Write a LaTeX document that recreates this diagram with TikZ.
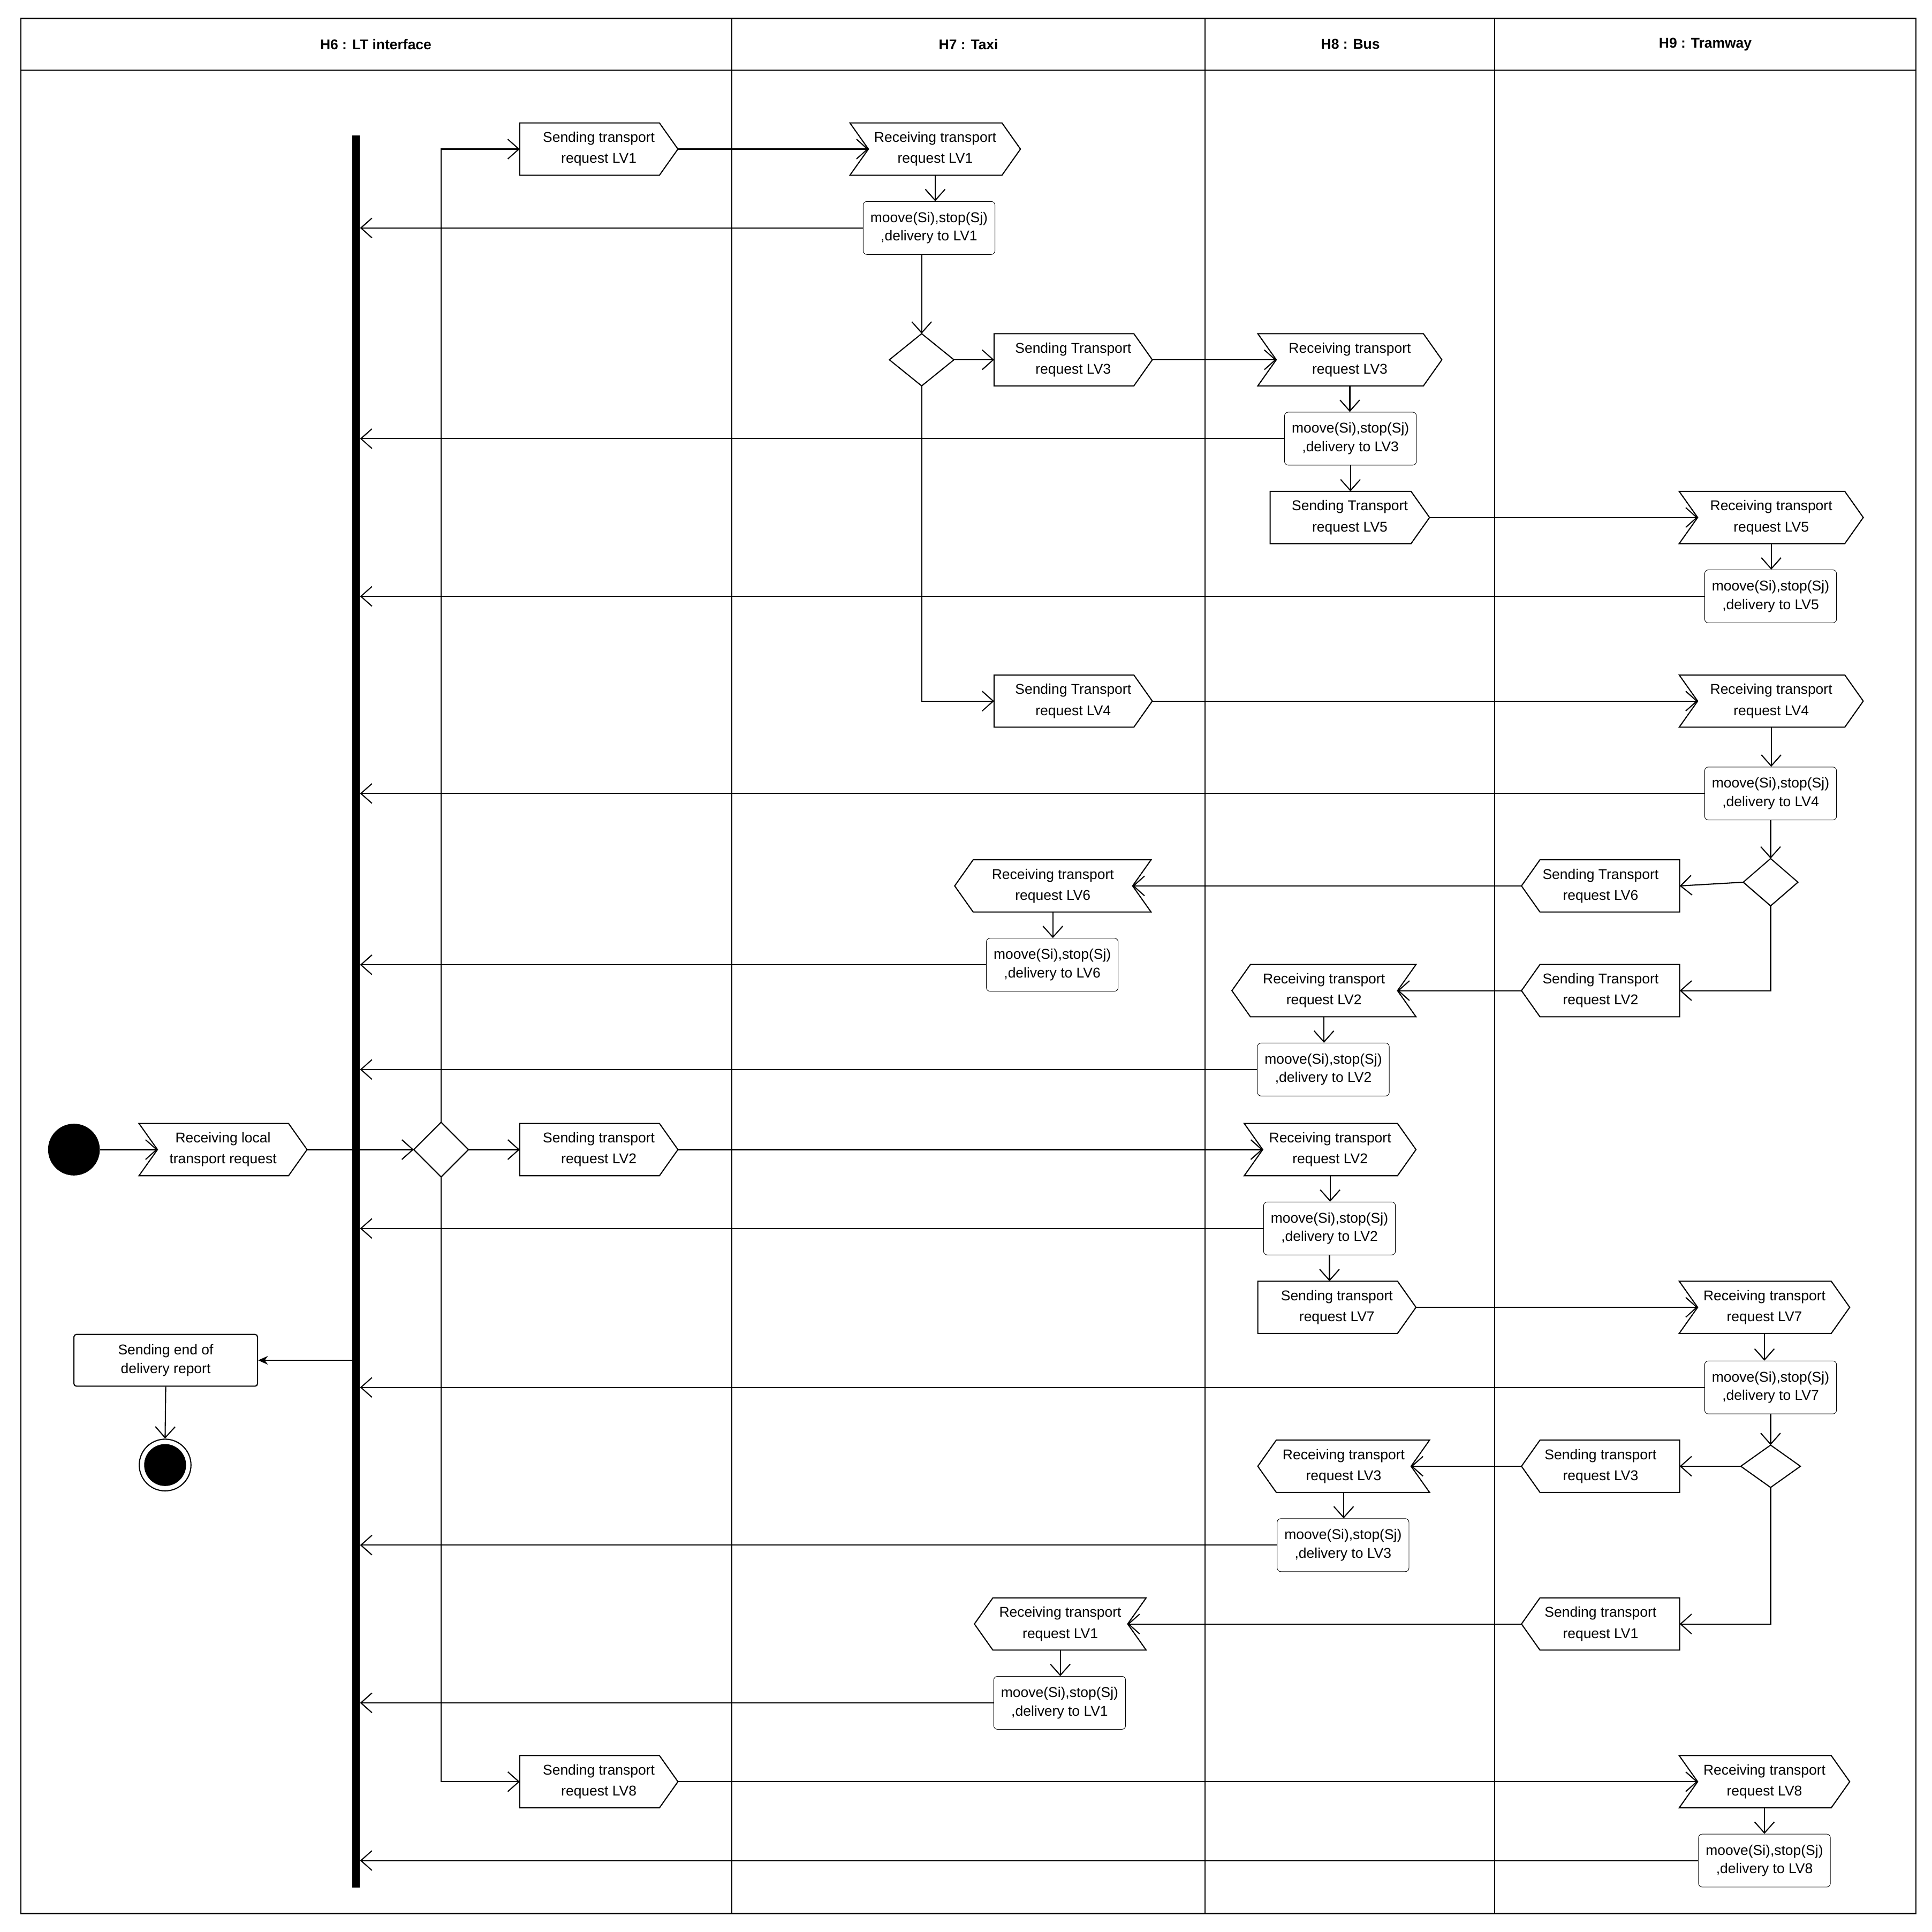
\documentclass[tikz,border=0pt]{standalone}
\usepackage{fontspec}
\setmainfont{Liberation Sans}
\usetikzlibrary{calc,arrows.meta}
\tikzset{
 sig/.style={inner sep=0pt,minimum height=42pt,align=center,font=\fontsize{11.5}{17}\selectfont},
 act/.style={draw,rounded corners=3pt,inner sep=0pt,minimum width=107pt,minimum height=43pt,align=center,font=\fontsize{11.5}{15}\selectfont},
 ln/.style={line width=0.9pt},
 ar/.style={ln,-{Straight Barb[length=9pt,width=16pt]}},
 hd/.style={font=\fontsize{11.5}{14}\selectfont\bfseries}
}
\newcommand\SR[5]{\node[sig,minimum width=#4pt] (#1) at (#2,#3) {#5};
 \draw[ln] (#1.north west) -- ($(#1.north east)+(-15pt,0)$) -- (#1.east) -- ($(#1.south east)+(-15pt,0)$) -- (#1.south west) -- cycle;}
\newcommand\RR[5]{\node[sig,minimum width=#4pt] (#1) at (#2,#3) {#5};
 \draw[ln] (#1.north west) -- ($(#1.north east)+(-15pt,0)$) -- (#1.east) -- ($(#1.south east)+(-15pt,0)$) -- (#1.south west) -- ($(#1.west)+(15pt,0)$) -- cycle;}
\newcommand\SL[5]{\node[sig,minimum width=#4pt] (#1) at (#2,#3) {#5};
 \draw[ln] (#1.west) -- ($(#1.north west)+(15pt,0)$) -- (#1.north east) -- (#1.south east) -- ($(#1.south west)+(15pt,0)$) -- cycle;}
\newcommand\RL[5]{\node[sig,minimum width=#4pt] (#1) at (#2,#3) {#5};
 \draw[ln] (#1.west) -- ($(#1.north west)+(15pt,0)$) -- (#1.north east) -- ($(#1.east)+(-15pt,0)$) -- (#1.south east) -- ($(#1.south west)+(15pt,0)$) -- cycle;}
\newcommand\Dia[5]{\node[inner sep=0pt,minimum width=#4pt,minimum height=#5pt] (#1) at (#2,#3) {};
 \draw[ln] (#1.north) -- (#1.east) -- (#1.south) -- (#1.west) -- cycle;}
\newcommand\Act[4]{\node[act] (#1) at (#2,#3) {moove(Si),stop(Sj)\\,delivery to #4};}
\begin{document}
\begin{tikzpicture}[x=1pt,y=-1pt]
\useasboundingbox (0,0) rectangle (1568,1568);
% frame and lanes
\draw[ln] (17,15) rectangle (1555,1553);
\draw[ln] (17,57) -- (1555,57);
\foreach \x in {594,978,1213} \draw[ln] (\x,15) -- (\x,1553);
\node[hd] (h6) at (305,36) {H6 : LT interface};
\node[hd] (h7) at (786,36) {H7 : Taxi};
\node[hd] (h8) at (1096,36) {H8 : Bus};
\node[hd] (h9) at (1384,36) {H9 : Tramway};
% bar
\node[fill,inner sep=0pt,minimum width=6pt,minimum height=1422pt] (bar) at (289,821) {};
% start / end
\node[circle,fill,inner sep=0pt,minimum size=42pt] (init) at (60,933) {};
\RR{rloc}{181}{933}{136}{Receiving local\\transport request}
\Dia{d0}{358}{933}{44}{44}
\node[draw,ln,rounded corners=2pt,minimum width=149pt,minimum height=42pt,inner sep=0pt,align=center,font=\fontsize{11.5}{15}\selectfont] (endrep) at (134.5,1104) {Sending end of\\delivery report};
\node[circle,draw,ln,inner sep=0pt,minimum size=42pt] (fin) at (134,1189) {};
\fill (fin.center) circle (17pt);
% elements
\SR{s1}{486}{121}{128}{Sending transport\\request LV1}
\RR{r1}{759}{121}{138}{Receiving transport\\request LV1}
\Act{m1}{754}{185}{LV1}
\Dia{d1}{748}{292}{52}{42}
\SR{s3}{871}{292}{128}{Sending Transport\\request LV3}
\RR{r3}{1095.5}{292}{149}{Receiving transport\\request LV3}
\Act{m3}{1096}{356}{LV3}
\SR{s5}{1095.5}{420}{129}{Sending Transport\\request LV5}
\RR{r5}{1437.5}{420}{149}{Receiving transport\\request LV5}
\Act{m5}{1437}{484}{LV5}
\SR{s4}{871}{569}{128}{Sending Transport\\request LV4}
\RR{r4}{1437.5}{569}{149}{Receiving transport\\request LV4}
\Act{m4}{1437}{644}{LV4}
\Dia{d2}{1437}{716}{44}{38}
\SL{s6}{1299}{719}{128}{Sending Transport\\request LV6}
\RL{r6}{854.5}{719}{159}{Receiving transport\\request LV6}
\Act{m6}{854}{783}{LV6}
\SL{s2t}{1299}{804}{128}{Sending Transport\\request LV2}
\RL{r2a}{1074.5}{804}{149}{Receiving transport\\request LV2}
\Act{m2a}{1074}{868}{LV2}
\SR{s2}{486}{933}{128}{Sending transport\\request LV2}
\RR{r2b}{1079.5}{933}{139}{Receiving transport\\request LV2}
\Act{m2b}{1079}{997}{LV2}
\SR{s7}{1085}{1061}{128}{Sending transport\\request LV7}
\RR{r7}{1432}{1061}{138}{Receiving transport\\request LV7}
\Act{m7}{1437}{1126}{LV7}
\Dia{d3}{1437}{1190}{48}{34}
\SL{s3t}{1299}{1190}{128}{Sending transport\\request LV3}
\RL{r3b}{1090.5}{1190}{139}{Receiving transport\\request LV3}
\Act{m3b}{1090}{1254}{LV3}
\SL{s1t}{1299}{1318}{128}{Sending transport\\request LV1}
\RL{r1b}{860.5}{1318}{139}{Receiving transport\\request LV1}
\Act{m1b}{860}{1382}{LV1}
\SR{s8}{486}{1446}{128}{Sending transport\\request LV8}
\RR{r8}{1432}{1446}{138}{Receiving transport\\request LV8}
\Act{m8}{1432}{1510}{LV8}
% connectors
\draw[ar] (init) -- ($(rloc.west)+(15pt,0)$);
\draw[ar] (rloc.east) -- (d0.west);
\draw[ar] (d0.north) |- (s1.west);
\draw[ar] (d0.east) -- (s2.west);
\draw[ar] (d0.south) |- (s8.west);
\draw[ar] (s1.east) -- ($(r1.west)+(15pt,0)$);
\draw[ar] (r1.south) -- (r1.south |- m1.north);
\draw[ar] (m1.west) -- (bar.east |- m1.west);
\draw[ar] (d1.north |- m1.south) -- (d1.north);
\draw[ar] (d1.east) -- (s3.west);
\draw[ar] (s3.east) -- ($(r3.west)+(15pt,0)$);
\draw[ar] (r3.south) -- (r3.south |- m3.north);
\draw[ar] (m3.west) -- (bar.east |- m3.west);
\draw[ar] (m3.south) -- (m3.south |- s5.north);
\draw[ar] (s5.east) -- ($(r5.west)+(15pt,0)$);
\draw[ar] (r5.south) -- (r5.south |- m5.north);
\draw[ar] (m5.west) -- (bar.east |- m5.west);
\draw[ar] (d1.south) |- (s4.west);
\draw[ar] (s4.east) -- ($(r4.west)+(15pt,0)$);
\draw[ar] (r4.south) -- (r4.south |- m4.north);
\draw[ar] (m4.west) -- (bar.east |- m4.west);
\draw[ar] (m4.south) -- (d2.north);
\draw[ar] (d2.west) -- (s6.east);
\draw[ar] (s6.west) -- ($(r6.east)+(-15pt,0)$);
\draw[ar] (r6.south) -- (r6.south |- m6.north);
\draw[ar] (m6.west) -- (bar.east |- m6.west);
\draw[ar] (d2.south) |- (s2t.east);
\draw[ar] (s2t.west) -- ($(r2a.east)+(-15pt,0)$);
\draw[ar] (r2a.south) -- (r2a.south |- m2a.north);
\draw[ar] (m2a.west) -- (bar.east |- m2a.west);
\draw[ar] (s2.east) -- ($(r2b.west)+(15pt,0)$);
\draw[ar] (r2b.south) -- (r2b.south |- m2b.north);
\draw[ar] (m2b.west) -- (bar.east |- m2b.west);
\draw[ar] (m2b.south) -- (m2b.south |- s7.north);
\draw[ar] (s7.east) -- ($(r7.west)+(15pt,0)$);
\draw[ar] (r7.south) -- (r7.south |- m7.north);
\draw[ar] (m7.west) -- (bar.east |- m7.west);
\draw[ar] (m7.south) -- (d3.north);
\draw[ar] (d3.west) -- (s3t.east);
\draw[ar] (s3t.west) -- ($(r3b.east)+(-15pt,0)$);
\draw[ar] (r3b.south) -- (r3b.south |- m3b.north);
\draw[ar] (m3b.west) -- (bar.east |- m3b.west);
\draw[ar] (d3.south) |- (s1t.east);
\draw[ar] (s1t.west) -- ($(r1b.east)+(-15pt,0)$);
\draw[ar] (r1b.south) -- (r1b.south |- m1b.north);
\draw[ar] (m1b.west) -- (bar.east |- m1b.west);
\draw[ar] (s8.east) -- ($(r8.west)+(15pt,0)$);
\draw[ar] (r8.south) -- (r8.south |- m8.north);
\draw[ar] (m8.west) -- (bar.east |- m8.west);
\draw[ln,-{Stealth[length=8pt,width=7pt]}] (bar.west |- endrep.east) -- (endrep.east);
\draw[ln,-{Straight Barb[length=9pt,width=16pt]}] (endrep.south) -- (fin.north);
\end{tikzpicture}
\end{document}
